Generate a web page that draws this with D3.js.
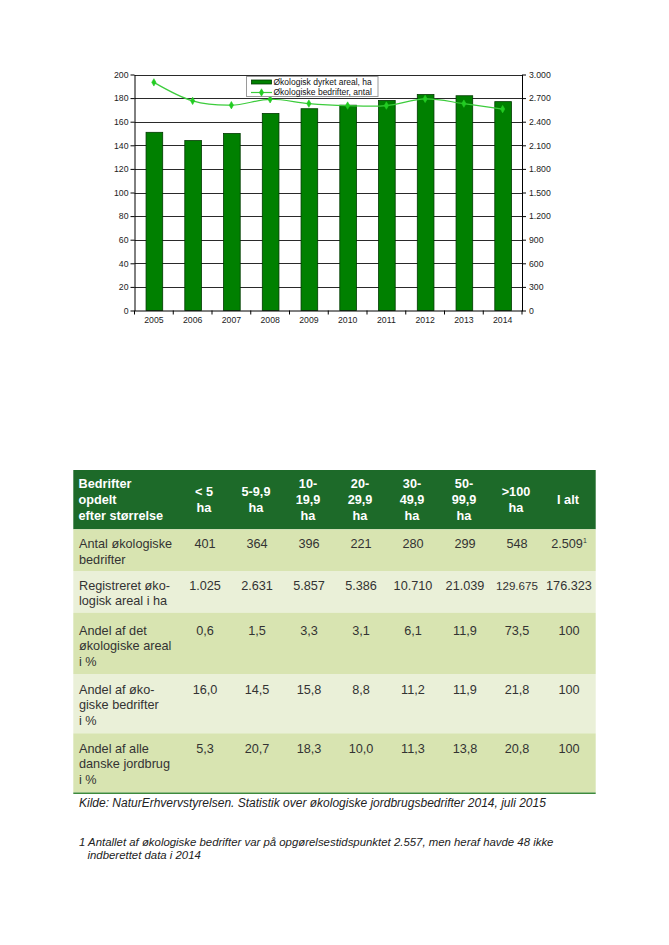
<!DOCTYPE html>
<html><head><meta charset="utf-8">
<script src="https://cdn.jsdelivr.net/npm/d3@7"></script>
<style>
html,body{margin:0;padding:0;background:#fff;}
svg text{font-family:"Liberation Sans",Arial,Helvetica,sans-serif;}
</style></head>
<body>
<svg id="c" width="669" height="945"></svg>
<script>
// ---------- chart data ----------
const years = [2005, 2006, 2007, 2008, 2009, 2010, 2011, 2012, 2013, 2014];
const arealHa = [151, 144, 150, 167, 171, 174, 178, 183, 182, 177];          // 1000 ha (left axis)
const antalBedrifter = [2900, 2665, 2610, 2685, 2630, 2605, 2605, 2690, 2630, 2560]; // right axis
const leftTicks = [0, 20, 40, 60, 80, 100, 120, 140, 160, 180, 200];
const rightTicks = [0, 300, 600, 900, 1200, 1500, 1800, 2100, 2400, 2700, 3000];
const seriesNames = ["Økologisk dyrket areal, ha", "Økologiske bedrifter, antal"];

// ---------- table data ----------
const tableTitle = ["Bedrifter", "opdelt", "efter størrelse"];
const sizeClasses = [["< 5", "ha"], ["5-9,9", "ha"], ["10-", "19,9", "ha"], ["20-", "29,9", "ha"],
  ["30-", "49,9", "ha"], ["50-", "99,9", "ha"], [">100", "ha"], ["I alt"]];
const rowLabels = [["Antal økologiske", "bedrifter"], ["Registreret øko-", "logisk areal i ha"],
  ["Andel af det", "økologiske areal", "i %"], ["Andel af øko-", "giske bedrifter", "i %"],
  ["Andel af alle", "danske jordbrug", "i %"]];
const antal = [401, 364, 396, 221, 280, 299, 548, 2509];
const registreretAreal = [1025, 2631, 5857, 5386, 10710, 21039, 129675, 176323];
const andelAreal = [0.6, 1.5, 3.3, 3.1, 6.1, 11.9, 73.5, 100];
const andelBedrifter = [16.0, 14.5, 15.8, 8.8, 11.2, 11.9, 21.8, 100];
const andelAlle = [5.3, 20.7, 18.3, 10.0, 11.3, 13.8, 20.8, 100];
const source = "Kilde: NaturErhvervstyrelsen. Statistik over økologiske jordbrugsbedrifter 2014, juli 2015";
const footnote = ["1 Antallet af økologiske bedrifter var på opgørelsestidspunktet 2.557, men heraf havde 48 ikke",
  "indberettet data i 2014"];

// ---------- rendering ----------
const dk = d3.formatLocale({decimal: ",", thousands: ".", grouping: [3], currency: ["", ""]});
const fInt = dk.format(",d");
const fPct = v => v === 100 ? "100" : dk.format(".1f")(v);

const svg = d3.select("#c");
const L = 134.5, R = 522, T = 74.5, B = 310.5;
const x = d3.scaleBand().domain(years).range([L, R]);
const yL = d3.scaleLinear().domain([0, 200]).range([B, T]);
const yR = d3.scaleLinear().domain([0, 3000]).range([B, T]);
const axisFont = "8.7px";

// gridlines
svg.append("g").selectAll("line").data(leftTicks.filter(d => d > 0)).join("line")
  .attr("x1", L).attr("x2", R).attr("y1", d => Math.round(yL(d)) + 0.5).attr("y2", d => Math.round(yL(d)) + 0.5)
  .attr("stroke", "#2a2a2a").attr("stroke-width", 1);

// bars
const bw = x.bandwidth() * 0.43;
svg.append("g").selectAll("rect").data(years).join("rect")
  .attr("x", (d) => x(d) + x.bandwidth() / 2 - bw / 2 + 0.5)
  .attr("width", bw)
  .attr("y", (d, i) => yL(arealHa[i]))
  .attr("height", (d, i) => B - yL(arealHa[i]))
  .attr("fill", "#008000").attr("stroke", "#003a00").attr("stroke-width", 0.8);

// axes
const gl = svg.append("g").attr("transform", `translate(${L},0)`)
  .call(d3.axisLeft(yL).tickValues(leftTicks).tickSize(4).tickSizeOuter(0).tickPadding(2));
const gr = svg.append("g").attr("transform", `translate(${R},0)`)
  .call(d3.axisRight(yR).tickValues(rightTicks).tickFormat(fInt).tickSize(4).tickSizeOuter(0).tickPadding(3));
const gb = svg.append("g").attr("transform", `translate(0,${B})`)
  .call(d3.axisBottom(x).tickSize(0).tickSizeOuter(0).tickPadding(10));
[gl, gr, gb].forEach(g => {
  g.selectAll("text").attr("font-size", axisFont).attr("fill", "#222")
    .attr("font-family", "'Liberation Sans',Arial,sans-serif");
  g.selectAll("line").attr("stroke", "#000");
  g.select(".domain").attr("stroke", "#000");
});
gb.selectAll("text").attr("dy", "0.3em");
// category boundary ticks
svg.append("g").selectAll("line").data(years.map(d => x(d)).concat([R])).join("line")
  .attr("x1", d => d).attr("x2", d => d).attr("y1", B).attr("y2", B + 4).attr("stroke", "#000");

// line series
const cx = d => x(d) + x.bandwidth() / 2;
const lineGen = d3.line().x((d, i) => cx(years[i])).y(d => yR(d)).curve(d3.curveCatmullRom.alpha(0.5));
svg.append("path").datum(antalBedrifter).attr("d", lineGen)
  .attr("fill", "none").attr("stroke", "#3ccc3c").attr("stroke-width", 1.2);
const sym = d3.symbol(d3.symbolDiamond, 16);
svg.append("g").selectAll("path").data(antalBedrifter).join("path")
  .attr("transform", (d, i) => `translate(${cx(years[i])},${yR(d)})`)
  .attr("d", sym).attr("fill", "#22cc22").attr("stroke", "#22cc22").attr("stroke-width", 0.6);

// legend
const lg = svg.append("g");
lg.append("rect").attr("x", 246.5).attr("y", 76.5).attr("width", 131.5).attr("height", 20)
  .attr("fill", "#fff").attr("stroke", "#9a9a9a").attr("stroke-width", 1);
lg.append("rect").attr("x", 251.5).attr("y", 80).attr("width", 20).attr("height", 4)
  .attr("fill", "#008000").attr("stroke", "#003a00").attr("stroke-width", 0.8);
lg.append("line").attr("x1", 251).attr("x2", 272).attr("y1", 92.5).attr("y2", 92.5)
  .attr("stroke", "#3ccc3c").attr("stroke-width", 1.2);
lg.append("path").attr("transform", "translate(261.5,92.5)").attr("d", sym)
  .attr("fill", "#22cc22").attr("stroke", "#22cc22").attr("stroke-width", 0.6);
lg.selectAll("text.lt").data(seriesNames).join("text").attr("class", "lt")
  .attr("x", 273.5).attr("y", (d, i) => 85.3 + i * 10).attr("font-size", "8.5px").attr("fill", "#111")
  .text(d => d);

// ---------- table ----------
const TL = 73.3, TR = 595.7;
const col = d3.scaleBand().domain(d3.range(sizeClasses.length)).range([178, 594]);
const colC = i => col(i) + col.bandwidth() / 2;
const headerTop = 470, headerBottom = 529.3;
const rowBounds = [529.3, 571, 612.7, 674, 733.3, 792.7];
const rowFills = ["#d8e4b1", "#eaf0d8", "#d8e4b1", "#eaf0d8", "#d8e4b1"];
const lh = 15.8, fs = "12.7px", txt = "#333";

const tg = svg.append("g");
tg.append("rect").attr("x", TL).attr("y", headerTop).attr("width", TR - TL).attr("height", headerBottom - headerTop)
  .attr("fill", "#1d6a29");
tg.selectAll("rect.row").data(rowFills).join("rect").attr("class", "row")
  .attr("x", TL).attr("width", TR - TL)
  .attr("y", (d, i) => rowBounds[i]).attr("height", (d, i) => rowBounds[i + 1] - rowBounds[i])
  .attr("fill", d => d);
tg.append("line").attr("x1", TL).attr("x2", TR).attr("y1", 793.2).attr("y2", 793.2)
  .attr("stroke", "#3d8a3d").attr("stroke-width", 1.6);

// header text
const hMid = (headerTop + headerBottom) / 2;
const hlh = 16.2;
function header(lines, xPos, anchor) {
  const t = tg.append("text").attr("x", xPos).attr("text-anchor", anchor)
    .attr("font-size", fs).attr("font-weight", "bold").attr("fill", "#fff");
  const y0 = hMid - (lines.length - 1) * hlh / 2 + 4.4;
  lines.forEach((s, k) => t.append("tspan").attr("x", xPos).attr("y", y0 + k * hlh).text(s));
}
header(tableTitle, 78.5, "start");
sizeClasses.forEach((lines, i) => header(lines, colC(i), "middle"));

// body
const rows = [antal.map(fInt), registreretAreal.map(fInt), andelAreal.map(fPct), andelBedrifter.map(fPct), andelAlle.map(fPct)];
const firstOffsets = [18.4, 18.6, 21.8, 19.6, 19.2];
rows.forEach((vals, r) => {
  const by = rowBounds[r] + firstOffsets[r];
  const t = tg.append("text").attr("x", 79).attr("font-size", fs).attr("fill", txt);
  rowLabels[r].forEach((s, k) => t.append("tspan").attr("x", 79).attr("y", by + k * lh).text(s));
  vals.forEach((v, i) => {
    const small = v.length > 6 && i < vals.length - 1;
    const tt = tg.append("text").attr("x", colC(i) + 1).attr("y", by).attr("text-anchor", "middle")
      .attr("font-size", small ? "11.6px" : fs).attr("fill", txt).text(v);
    if (r === 0 && i === vals.length - 1) {
      tt.append("tspan").attr("font-size", "7px").attr("dy", "-4.5").text("1");
    }
  });
});

// source & footnote
svg.append("text").attr("x", 79).attr("y", 807.3).attr("font-size", "12px").attr("font-style", "italic")
  .attr("fill", "#222").text(source);
svg.append("text").attr("x", 79).attr("y", 845.5).attr("font-size", "11.4px").attr("font-style", "italic")
  .attr("fill", "#222").text(footnote[0]);
svg.append("text").attr("x", 87.5).attr("y", 859).attr("font-size", "11.4px").attr("font-style", "italic")
  .attr("fill", "#222").text(footnote[1]);
</script>
</body></html>
